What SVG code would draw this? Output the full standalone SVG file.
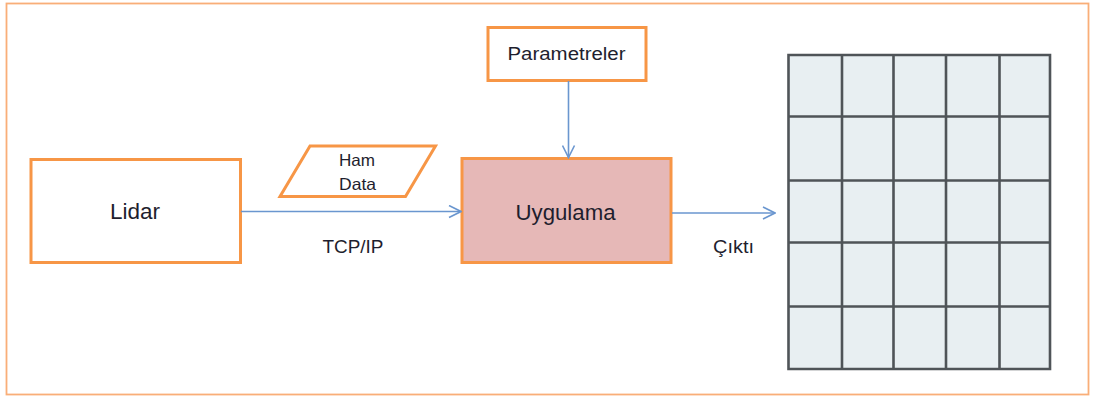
<svg xmlns="http://www.w3.org/2000/svg" width="1093" height="396" viewBox="0 0 1093 396">
<style>
.box{fill:#fff;stroke:#F79646;stroke-width:3}
.lbl{font-family:"Liberation Sans",Arial,sans-serif;fill:#1e1e2e;text-anchor:middle}
.con{stroke:#6A96CF;stroke-width:1.6;fill:none}
.grid{stroke:#4f5458;stroke-width:2.6;fill:none}
</style>
<defs>
<marker id="arr" viewBox="0 0 14 14" refX="13" refY="7" markerWidth="14" markerHeight="14" markerUnits="userSpaceOnUse" orient="auto">
<path d="M1,1 L13,7 L1,13" fill="none" stroke="#6A96CF" stroke-width="1.6"/>
</marker>
</defs>
<rect x="6.5" y="3.5" width="1082" height="391" fill="#fff" stroke="#F9AE78" stroke-width="1.8"/>
<g id="lidar">
<rect class="box" x="31" y="159.5" width="209.5" height="103"/>
<text class="lbl" x="135" y="219" font-size="22" textLength="50" lengthAdjust="spacingAndGlyphs">Lidar</text>
</g>
<g id="hamdata">
<polygon class="box" points="310,146 435.5,146 405.5,196.5 280,196.5"/>
<text class="lbl" x="357" y="165.5" font-size="16.5" textLength="36" lengthAdjust="spacingAndGlyphs">Ham</text>
<text class="lbl" x="357.5" y="189.5" font-size="16.5" textLength="37" lengthAdjust="spacingAndGlyphs">Data</text>
</g>
<g id="parametreler">
<rect class="box" x="488" y="27.5" width="158" height="53"/>
<text class="lbl" x="566.5" y="60" font-size="17.5" textLength="118" lengthAdjust="spacingAndGlyphs">Parametreler</text>
</g>
<g id="uygulama">
<rect x="462" y="158.5" width="209" height="104" fill="#E6B8B7" stroke="#F79646" stroke-width="3"/>
<text class="lbl" x="565.5" y="220" font-size="22" textLength="100" lengthAdjust="spacingAndGlyphs">Uygulama</text>
</g>
<g id="cikti">
<rect x="788.5" y="55" width="261.5" height="314" fill="#E8EFF2"/>
<path class="grid" d="M788.5,55 H1050 V369 H788.5 Z M842,55 V369 M893.5,55 V369 M946,55 V369 M999.5,55 V369 M788.5,116.5 H1050 M788.5,180.5 H1050 M788.5,242.5 H1050 M788.5,306.5 H1050"/>
</g>
<g id="connectors">
<line class="con" x1="241" y1="211.5" x2="461" y2="211.5" marker-end="url(#arr)"/>
<line class="con" x1="568.5" y1="81" x2="568.5" y2="157.5" marker-end="url(#arr)"/>
<line class="con" x1="672" y1="213" x2="775" y2="213" marker-end="url(#arr)"/>
</g>
<text class="lbl" x="353" y="253" font-size="18" textLength="61" lengthAdjust="spacingAndGlyphs">TCP/IP</text>
<text class="lbl" x="733.5" y="253" font-size="18" textLength="41" lengthAdjust="spacingAndGlyphs">Çıktı</text>
</svg>
